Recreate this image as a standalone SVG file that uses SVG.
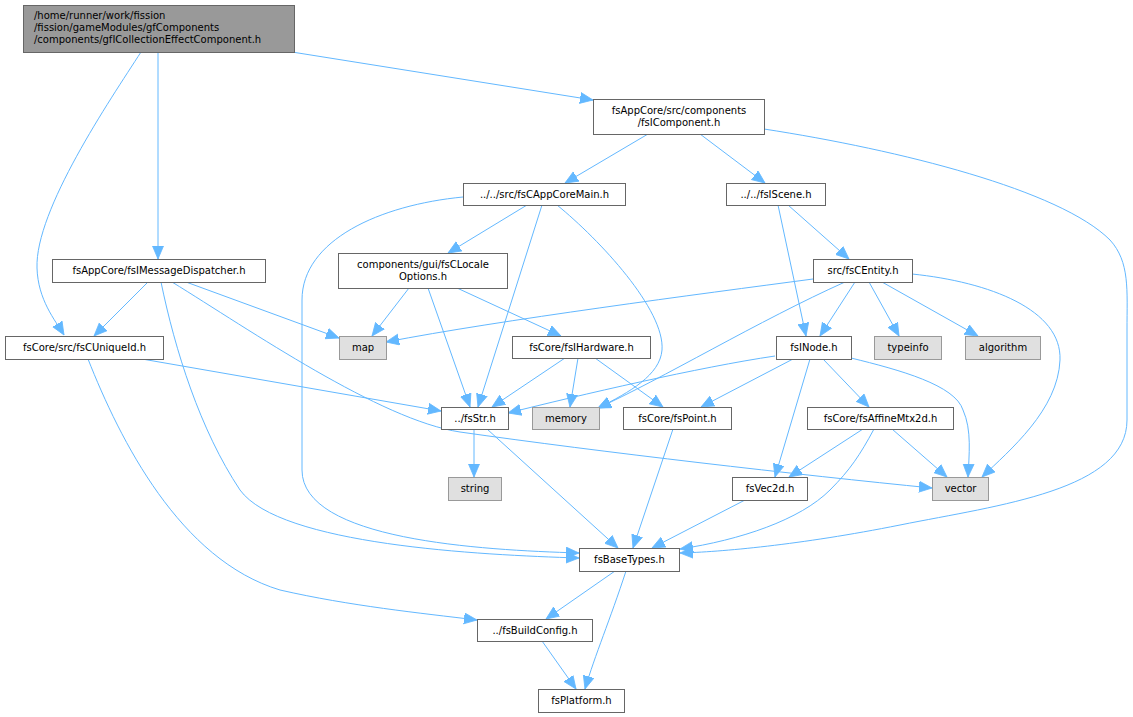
<svg xmlns="http://www.w3.org/2000/svg" width="1133" height="717" viewBox="0 0 1133 717">
<defs>
<marker id="ah" markerWidth="15" markerHeight="13" refX="13" refY="6" orient="auto" markerUnits="userSpaceOnUse">
<path d="M0,0.5 L13,6 L0,11.5 z" fill="#63b8ff" stroke="#63b8ff" stroke-width="0.8"/>
</marker>
<style>
.n rect{fill:#ffffff;stroke:#666666;stroke-width:1}
.g rect{fill:#e0e0e0;stroke:#999999;stroke-width:1}
.r rect{fill:#999999;stroke:#666666;stroke-width:1}
text{font-family:"DejaVu Sans","Liberation Sans",sans-serif;font-size:10px;fill:#000000}
.c{text-anchor:middle}
#edges path{fill:none;stroke:#63b8ff;stroke-width:1;marker-end:url(#ah)}
</style>
</defs>
<rect width="1133" height="717" fill="#ffffff"/>
<g id="edges">
<path d="M141,52 C110,100 35,210 37,268 C38,300 55,320 64,335"/>
<path d="M158,52 L158,259"/>
<path d="M292,52 L593,100"/>
<path d="M648,134 L565,183"/>
<path d="M700,134 L765,183"/>
<path d="M764,129 C900,150 1060,190 1110,240 C1130,262 1127,290 1127,330 L1127,420 C1127,490 1000,505 900,525 C800,545 720,552 680,553"/>
<path d="M463,197 C380,205 302,240 302,300 L302,470 C302,540 480,550 579,553"/>
<path d="M161,282 C175,350 200,430 240,490 C280,545 480,555 579,558"/>
<path d="M148,282 L94,336"/>
<path d="M186,282 L339,338"/>
<path d="M172,282 C250,330 380,420 460,432 C600,452 800,475 932,488"/>
<path d="M142,359 L441,411"/>
<path d="M88,359 C120,440 180,560 280,590 C350,606 420,613 477,620"/>
<path d="M527,205 L448,253"/>
<path d="M542,205 L478,407"/>
<path d="M557,205 C600,240 665,310 662,350 C660,375 630,392 598,408"/>
<path d="M409,288 L372,336"/>
<path d="M428,288 L470,407"/>
<path d="M457,288 L561,336"/>
<path d="M565,358 L492,407"/>
<path d="M578,358 L570,407"/>
<path d="M595,358 L663,407"/>
<path d="M778,205 L806,336"/>
<path d="M788,205 L849,259"/>
<path d="M813,279 C700,294 500,320 386,342"/>
<path d="M845,282 C760,320 660,380 598,408"/>
<path d="M855,282 L820,336"/>
<path d="M869,282 L899,336"/>
<path d="M882,282 L978,336"/>
<path d="M912,274 C990,282 1062,310 1060,360 C1058,410 1010,450 982,477"/>
<path d="M775,356 C700,367 580,395 508,413"/>
<path d="M793,359 L701,407"/>
<path d="M823,359 L869,407"/>
<path d="M810,359 L775,477"/>
<path d="M851,358 C900,370 955,385 963,410 C972,430 969,455 968,477"/>
<path d="M863,429 L789,477"/>
<path d="M892,429 L947,477"/>
<path d="M874,429 C860,455 850,470 830,490 C800,520 740,540 680,549"/>
<path d="M745,500 L652,548"/>
<path d="M673,429 L633,548"/>
<path d="M474,429 L474,477"/>
<path d="M487,429 L618,548"/>
<path d="M615,571 L546,619"/>
<path d="M626,571 C610,620 595,655 585,689"/>
<path d="M542,641 L576,689"/>
</g>
<g id="root" class="r"><rect x="23.5" y="5.5" width="271" height="47"/><text x="34" y="19">/home/runner/work/fission</text><text x="34" y="31">/fission/gameModules/gfComponents</text><text x="34" y="43">/components/gfICollectionEffectComponent.h</text></g>
<g id="fsIComponent" class="n"><rect x="593.5" y="99.5" width="171" height="35"/><text class="c" x="679" y="114">fsAppCore/src/components</text><text class="c" x="679" y="126">/fsIComponent.h</text></g>
<g id="fsCAppCoreMain" class="n"><rect x="463.5" y="183.5" width="162" height="22"/><text class="c" x="544.5" y="198">../../src/fsCAppCoreMain.h</text></g>
<g id="fsIScene" class="n"><rect x="726.5" y="183.5" width="99" height="22"/><text class="c" x="776" y="198">../../fsIScene.h</text></g>
<g id="fsIMessageDispatcher" class="n"><rect x="52.5" y="259.5" width="213" height="23"/><text class="c" x="159" y="274">fsAppCore/fsIMessageDispatcher.h</text></g>
<g id="fsCLocaleOptions" class="n"><rect x="338.5" y="253.5" width="169" height="35"/><text class="c" x="423" y="268">components/gui/fsCLocale</text><text class="c" x="423" y="280">Options.h</text></g>
<g id="fsCEntity" class="n"><rect x="813.5" y="259.5" width="99" height="23"/><text class="c" x="863" y="274">src/fsCEntity.h</text></g>
<g id="fsCUniqueId" class="n"><rect x="5.5" y="336.5" width="158" height="23"/><text class="c" x="84.5" y="351">fsCore/src/fsCUniqueId.h</text></g>
<g id="map" class="g"><rect x="339.5" y="336.5" width="47" height="23"/><text class="c" x="363" y="351">map</text></g>
<g id="fsIHardware" class="n"><rect x="512.5" y="336.5" width="138" height="22"/><text class="c" x="581.5" y="351">fsCore/fsIHardware.h</text></g>
<g id="fsINode" class="n"><rect x="776.5" y="336.5" width="75" height="23"/><text class="c" x="814" y="351">fsINode.h</text></g>
<g id="typeinfo" class="g"><rect x="874.5" y="336.5" width="67" height="23"/><text class="c" x="908" y="351">typeinfo</text></g>
<g id="algorithm" class="g"><rect x="965.5" y="336.5" width="75" height="23"/><text class="c" x="1003" y="351">algorithm</text></g>
<g id="fsStr" class="n"><rect x="441.5" y="407.5" width="67" height="22"/><text class="c" x="475" y="422">../fsStr.h</text></g>
<g id="memory" class="g"><rect x="532.5" y="407.5" width="67" height="22"/><text class="c" x="566" y="422">memory</text></g>
<g id="fsPoint" class="n"><rect x="623.5" y="407.5" width="108" height="22"/><text class="c" x="677.5" y="422">fsCore/fsPoint.h</text></g>
<g id="fsAffineMtx2d" class="n"><rect x="807.5" y="407.5" width="146" height="22"/><text class="c" x="880.5" y="422">fsCore/fsAffineMtx2d.h</text></g>
<g id="string" class="g"><rect x="448.5" y="477.5" width="53" height="23"/><text class="c" x="475" y="492">string</text></g>
<g id="fsVec2d" class="n"><rect x="732.5" y="477.5" width="75" height="23"/><text class="c" x="770" y="492">fsVec2d.h</text></g>
<g id="vector" class="g"><rect x="932.5" y="477.5" width="56" height="23"/><text class="c" x="960.5" y="492">vector</text></g>
<g id="fsBaseTypes" class="n"><rect x="579.5" y="548.5" width="100" height="23"/><text class="c" x="629.5" y="563">fsBaseTypes.h</text></g>
<g id="fsBuildConfig" class="n"><rect x="477.5" y="619.5" width="115" height="22"/><text class="c" x="535" y="634">../fsBuildConfig.h</text></g>
<g id="fsPlatform" class="n"><rect x="538.5" y="689.5" width="86" height="23"/><text class="c" x="581.5" y="704">fsPlatform.h</text></g>
</svg>
